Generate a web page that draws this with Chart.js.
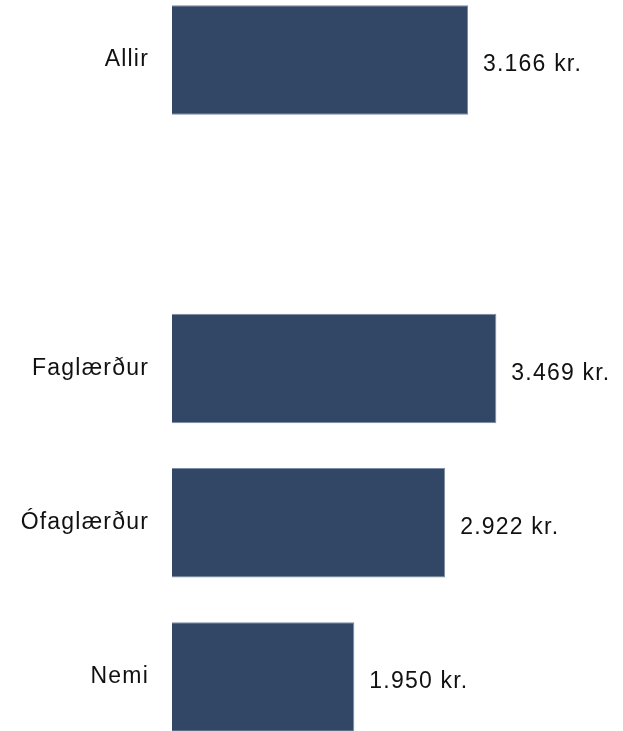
<!DOCTYPE html>
<html>
<head>
<meta charset="utf-8">
<script src="https://cdn.jsdelivr.net/npm/chart.js@4.4.0/dist/chart.umd.min.js"></script>
<style>
  html, body { margin: 0; padding: 0; background: #fff; overflow: hidden; }
  body { width: 623px; height: 731px; position: relative; }
  #wrap { position: absolute; left: 0; top: -17px; width: 623px; height: 771px; }
</style>
</head>
<body>
<div id="wrap"><canvas id="wageChart" width="623" height="771"></canvas></div>
<script>
// categories (empty slot between "Allir" and the groups)
const categories = ["Allir", "", "Faglærður", "Ófaglærður", "Nemi"];
const values = [3166, null, 3469, 2922, 1950];
const unit = "kr.";

const BAR_COLOR = "#324665";
const FONT = "'Liberation Sans', Arial, sans-serif";

function fmt(v) {
    return String(v).replace(/\B(?=(\d{3})+(?!\d))/g, ".") + " " + unit;
}

// slightly wider letter spacing like the original render
const spacingPlugin = {
    id: "spacing",
    beforeDraw(chart) {
        chart.ctx.letterSpacing = "1.2px";
    }
};

// value labels to the right of each bar
const valueLabels = {
    id: "valueLabels",
    afterDatasetsDraw(chart) {
        const ctx = chart.ctx;
        const meta = chart.getDatasetMeta(0);
        ctx.save();
        ctx.letterSpacing = "1.2px";
        ctx.font = "23px " + FONT;
        ctx.fillStyle = "#111";
        ctx.textAlign = "left";
        ctx.textBaseline = "middle";
        meta.data.forEach((bar, i) => {
            if (values[i] == null) return;
            ctx.fillText(fmt(values[i]), bar.x + 15, bar.y + 5);
        });
        ctx.restore();
    }
};

new Chart(document.getElementById("wageChart"), {
    type: "bar",
    data: {
        labels: categories,
        datasets: [{
            data: values,
            backgroundColor: BAR_COLOR,
            borderColor: "#7c8ca6",
            borderWidth: 1,
            categoryPercentage: 1.0,
            barPercentage: 0.71,
        }]
    },
    options: {
        indexAxis: "y",
        responsive: false,
        animation: false,
        layout: { padding: { left: 0, right: 77, top: 0, bottom: 0 } },
        plugins: {
            legend: { display: false },
            tooltip: { enabled: false },
        },
        scales: {
            x: {
                display: false,
                min: 0,
                max: 4000,
            },
            y: {
                grid: { display: false, drawTicks: false },
                border: { display: false },
                ticks: {
                    padding: 23,
                    color: "#111",
                    font: { family: FONT, size: 23 },
                },
                afterFit(scale) {
                    scale.width = 172;
                    scale.paddingTop = 0;
                    scale.paddingBottom = 0;
                }
            }
        }
    },
    plugins: [spacingPlugin, valueLabels]
});
</script>
</body>
</html>
